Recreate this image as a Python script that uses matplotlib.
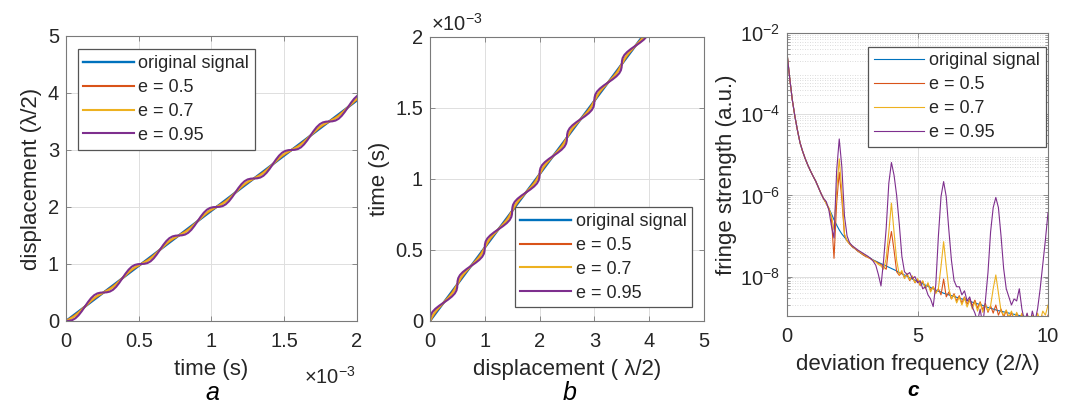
import matplotlib
matplotlib.use("Agg")
import matplotlib.pyplot as plt
import numpy as np
from matplotlib.ticker import FuncFormatter, LogLocator, NullFormatter

plt.rcParams["font.family"] = ["Liberation Sans", "DejaVu Sans"]
plt.rcParams["mathtext.fontset"] = "custom"
plt.rcParams["mathtext.rm"] = "Liberation Sans"
plt.rcParams["mathtext.it"] = "Liberation Sans:italic"

# ---- panels a / b : displacement vs time (time in ms) ----
time_ms = [
    0.0000, 0.0215, 0.0431, 0.0646, 0.0861, 0.1077, 0.1292, 0.1507, 0.1723, 0.1938, 0.2153, 0.2369,
    0.2584, 0.2799, 0.3015, 0.3230, 0.3445, 0.3661, 0.3876, 0.4091, 0.4307, 0.4522, 0.4737, 0.4953,
    0.5168, 0.5383, 0.5599, 0.5814, 0.6029, 0.6245, 0.6460, 0.6675, 0.6891, 0.7106, 0.7321, 0.7537,
    0.7752, 0.7967, 0.8183, 0.8398, 0.8613, 0.8829, 0.9044, 0.9259, 0.9475, 0.9690, 0.9905, 1.0121,
    1.0336, 1.0551, 1.0767, 1.0982, 1.1197, 1.1413, 1.1628, 1.1843, 1.2059, 1.2274, 1.2489, 1.2705,
    1.2920, 1.3135, 1.3351, 1.3566, 1.3781, 1.3997, 1.4212, 1.4427, 1.4643, 1.4858, 1.5073, 1.5289,
    1.5504, 1.5719, 1.5935, 1.6150, 1.6365, 1.6581, 1.6796, 1.7011, 1.7227, 1.7442, 1.7657, 1.7873,
    1.8088, 1.8303, 1.8519, 1.8734, 1.8949, 1.9165, 1.9380, 1.9595, 1.9811, 2.0026,
]
orig_time_ms = [0.0, 2.0026]
orig_disp = [0.0, 3.875]

disp_e05 = [
    0.000, 0.033, 0.068, 0.107, 0.151, 0.199, 0.250, 0.301, 0.349, 0.393, 0.432, 0.467,
    0.500, 0.533, 0.568, 0.607, 0.651, 0.699, 0.750, 0.801, 0.849, 0.893, 0.932, 0.967,
    1.000, 1.033, 1.068, 1.107, 1.151, 1.199, 1.250, 1.301, 1.349, 1.393, 1.432, 1.467,
    1.500, 1.533, 1.568, 1.607, 1.651, 1.699, 1.750, 1.801, 1.849, 1.893, 1.932, 1.967,
    2.000, 2.033, 2.068, 2.107, 2.151, 2.199, 2.250, 2.301, 2.349, 2.393, 2.432, 2.467,
    2.500, 2.533, 2.568, 2.607, 2.651, 2.699, 2.750, 2.801, 2.849, 2.893, 2.932, 2.967,
    3.000, 3.033, 3.068, 3.107, 3.151, 3.199, 3.250, 3.301, 3.349, 3.393, 3.432, 3.467,
    3.500, 3.533, 3.568, 3.607, 3.651, 3.699, 3.750, 3.801, 3.849, 3.893,
]
disp_e07 = [
    0.000, 0.027, 0.057, 0.095, 0.141, 0.193, 0.250, 0.307, 0.359, 0.405, 0.443, 0.473,
    0.500, 0.527, 0.557, 0.595, 0.641, 0.693, 0.750, 0.807, 0.859, 0.905, 0.943, 0.973,
    1.000, 1.027, 1.057, 1.095, 1.141, 1.193, 1.250, 1.307, 1.359, 1.405, 1.443, 1.473,
    1.500, 1.527, 1.557, 1.595, 1.641, 1.693, 1.750, 1.807, 1.859, 1.905, 1.943, 1.973,
    2.000, 2.027, 2.057, 2.095, 2.141, 2.193, 2.250, 2.307, 2.359, 2.405, 2.443, 2.473,
    2.500, 2.527, 2.557, 2.595, 2.641, 2.693, 2.750, 2.807, 2.859, 2.905, 2.943, 2.973,
    3.000, 3.027, 3.057, 3.095, 3.141, 3.193, 3.250, 3.307, 3.359, 3.405, 3.443, 3.473,
    3.500, 3.527, 3.557, 3.595, 3.641, 3.693, 3.750, 3.807, 3.859, 3.905,
]
disp_e095 = [
    0.000, 0.003, 0.016, 0.047, 0.099, 0.169, 0.250, 0.331, 0.401, 0.453, 0.484, 0.497,
    0.500, 0.503, 0.516, 0.547, 0.599, 0.669, 0.750, 0.831, 0.901, 0.953, 0.984, 0.997,
    1.000, 1.003, 1.016, 1.047, 1.099, 1.169, 1.250, 1.331, 1.401, 1.453, 1.484, 1.497,
    1.500, 1.503, 1.516, 1.547, 1.599, 1.669, 1.750, 1.831, 1.901, 1.953, 1.984, 1.997,
    2.000, 2.003, 2.016, 2.047, 2.099, 2.169, 2.250, 2.331, 2.401, 2.453, 2.484, 2.497,
    2.500, 2.503, 2.516, 2.547, 2.599, 2.669, 2.750, 2.831, 2.901, 2.953, 2.984, 2.997,
    3.000, 3.003, 3.016, 3.047, 3.099, 3.169, 3.250, 3.331, 3.401, 3.453, 3.484, 3.497,
    3.500, 3.503, 3.516, 3.547, 3.599, 3.669, 3.750, 3.831, 3.901, 3.953,
]

# ---- panel c : spectrum, values as log10(strength) ----
freq = [
    0.0, 0.1, 0.2, 0.3, 0.4, 0.5, 0.6, 0.7, 0.8, 0.9, 1.0, 1.1, 1.2, 1.3, 1.4, 1.5, 1.6, 1.7, 1.8, 1.9,
    2.0, 2.1, 2.2, 2.3, 2.4, 2.5, 2.6, 2.7, 2.8, 2.9, 3.0, 3.1, 3.2, 3.3, 3.4, 3.5, 3.6, 3.7, 3.8, 3.9,
    4.0, 4.1, 4.2, 4.3, 4.4, 4.5, 4.6, 4.7, 4.8, 4.9, 5.0, 5.1, 5.2, 5.3, 5.4, 5.5, 5.6, 5.7, 5.8, 5.9,
    6.0, 6.1, 6.2, 6.3, 6.4, 6.5, 6.6, 6.7, 6.8, 6.9, 7.0, 7.1, 7.2, 7.3, 7.4, 7.5, 7.6, 7.7, 7.8, 7.9,
    8.0, 8.1, 8.2, 8.3, 8.4, 8.5, 8.6, 8.7, 8.8, 8.9, 9.0, 9.1, 9.2, 9.3, 9.4, 9.5, 9.6, 9.7, 9.8, 9.9,
    10.0,
]
log_orig = [
    -2.50, -3.10, -3.64, -4.05, -4.40, -4.71, -4.92, -5.10, -5.26, -5.40,
    -5.53, -5.65, -5.80, -5.95, -6.08, -6.19, -6.32, -6.45, -6.60, -6.73,
    -6.85, -6.95, -7.03, -7.11, -7.19, -7.26, -7.31, -7.36, -7.41, -7.45,
    -7.49, -7.52, -7.55, -7.59, -7.62, -7.65, -7.68, -7.71, -7.74, -7.77,
    -7.80, -7.83, -7.86, -7.90, -7.93, -7.96, -7.99, -8.03, -8.06, -8.09,
    -8.12, -8.15, -8.18, -8.21, -8.24, -8.27, -8.30, -8.33, -8.36, -8.38,
    -8.41, -8.43, -8.45, -8.47, -8.49, -8.51, -8.53, -8.55, -8.57, -8.59,
    -8.61, -8.63, -8.65, -8.67, -8.69, -8.71, -8.74, -8.76, -8.78, -8.80,
    -8.82, -8.84, -8.85, -8.87, -8.88, -8.90, -8.91, -8.93, -8.94, -8.96,
    -8.97, -8.98, -9.00, -9.01, -9.02, -9.04, -9.05, -9.06, -9.08, -9.09,
    -9.10,
]
log_e05 = [
    -2.50, -3.10, -3.64, -4.05, -4.40, -4.71, -4.92, -5.10, -5.26, -5.40,
    -5.53, -5.65, -5.80, -5.95, -6.08, -6.19, -6.33, -6.55, -7.55, -6.20,
    -5.43, -6.10, -6.98, -7.12, -7.20, -7.27, -7.31, -7.37, -7.41, -7.46,
    -7.50, -7.53, -7.56, -7.60, -7.63, -7.67, -7.70, -7.76, -7.82, -7.25,
    -6.89, -7.35, -7.88, -7.97, -7.90, -8.02, -7.95, -8.10, -8.00, -8.15,
    -8.08, -8.22, -8.12, -8.28, -8.18, -8.33, -8.25, -8.40, -8.30, -8.45,
    -8.06, -8.50, -8.38, -8.55, -8.42, -8.60, -8.47, -8.65, -8.50, -8.68,
    -8.55, -8.72, -8.58, -8.78, -8.62, -8.82, -8.66, -8.88, -8.72, -8.90,
    -8.70, -8.95, -8.80, -9.00, -8.84, -9.05, -8.88, -9.10, -8.90, -9.05,
    -8.92, -9.15, -8.95, -9.10, -8.96, -9.20, -8.98, -9.15, -8.97, -9.20,
    -8.95,
]
log_e07 = [
    -2.50, -3.10, -3.64, -4.05, -4.40, -4.71, -4.92, -5.10, -5.26, -5.40,
    -5.53, -5.65, -5.80, -5.95, -6.08, -6.20, -6.30, -6.50, -6.85, -5.90,
    -5.10, -5.90, -6.95, -7.12, -7.19, -7.25, -7.30, -7.35, -7.40, -7.44,
    -7.48, -7.52, -7.56, -7.60, -7.64, -7.70, -7.74, -7.82, -7.55, -6.90,
    -6.19, -6.90, -7.60, -7.95, -7.85, -8.05, -7.92, -8.08, -7.98, -8.15,
    -8.05, -8.20, -8.10, -8.30, -8.15, -8.38, -8.25, -8.42, -8.30, -7.75,
    -7.14, -7.75, -8.30, -8.55, -8.45, -8.65, -8.50, -8.70, -8.52, -8.75,
    -8.58, -8.80, -8.62, -8.85, -8.65, -8.88, -8.70, -8.85, -8.72, -8.30,
    -7.96, -8.40, -8.85, -8.95, -8.82, -9.00, -8.85, -9.05, -8.88, -9.10,
    -8.90, -9.15, -8.92, -9.10, -8.95, -9.15, -8.90, -9.10, -8.85, -8.95,
    -8.70,
]
log_e095 = [
    -2.50, -3.10, -3.64, -4.05, -4.40, -4.71, -4.92, -5.10, -5.26, -5.40,
    -5.53, -5.65, -5.80, -5.95, -6.08, -6.15, -6.35, -6.75, -7.05, -5.40,
    -4.61, -5.30, -6.50, -7.00, -7.17, -7.24, -7.29, -7.34, -7.38, -7.42,
    -7.46, -7.50, -7.55, -7.62, -7.72, -7.95, -8.23, -7.60, -6.80, -5.70,
    -5.19, -5.50, -6.00, -6.70, -7.50, -7.88, -7.95, -7.90, -8.05, -8.00,
    -8.15, -8.10, -8.30, -8.25, -8.45, -8.55, -8.74, -8.20, -7.00, -6.03,
    -5.66, -6.03, -6.85, -7.60, -8.10, -8.25, -8.25, -8.45, -8.35, -8.60,
    -8.50, -8.75, -8.90, -9.10, -8.80, -9.20, -8.60, -7.90, -6.90, -6.30,
    -6.05, -6.30, -7.00, -7.80, -8.30, -8.50, -8.70, -8.55, -8.60, -8.30,
    -8.80, -9.10, -8.90, -9.20, -8.85, -9.10, -8.80, -8.30, -7.70, -7.10,
    -6.43,
]

labels = ["original signal", "e = 0.5", "e = 0.7", "e = 0.95"]
colors = ["#0072BD", "#D95319", "#EDB120", "#7E2F8E"]
text_c = "#262626"
axis_c = "#7a7a7a"
grid_c = "#dedede"


def style_axes(ax):
    for sp in ax.spines.values():
        sp.set_color(axis_c)
        sp.set_linewidth(0.8)
    ax.tick_params(direction="in", top=True, right=True, length=3.5, width=0.6,
                   color=axis_c, labelcolor=text_c, labelsize=14.5)
    ax.tick_params(axis="x", pad=8)
    ax.tick_params(axis="y", pad=5)
    ax.set_axisbelow(True)


def add_legend(ax, loc, anchor):
    leg = ax.legend(loc=loc, bbox_to_anchor=anchor, borderaxespad=0, fontsize=13,
                    fancybox=False, framealpha=1, edgecolor="#555555",
                    handlelength=2.8, handletextpad=0.25, labelspacing=0.38,
                    borderpad=0.32)
    leg.get_frame().set_linewidth(0.9)
    for t in leg.get_texts():
        t.set_color(text_c)
    return leg


ms_fmt = FuncFormatter(lambda v, p: f"{v * 1e3:g}")

fig = plt.figure(figsize=(10.73, 4.03), dpi=100)

# panel a
ax1 = fig.add_axes([0.0615, 0.2035, 0.2712, 0.7072])
t_s = np.array(time_ms) * 1e-3
ax1.plot(np.array(orig_time_ms) * 1e-3, orig_disp, color=colors[0], lw=1.7, label=labels[0])
ax1.plot(t_s, disp_e05, color=colors[1], lw=1.5, label=labels[1])
ax1.plot(t_s, disp_e07, color=colors[2], lw=1.5, label=labels[2])
ax1.plot(t_s, disp_e095, color=colors[3], lw=1.5, label=labels[3])
ax1.set_xlim(0, 2e-3)
ax1.set_ylim(0, 5)
ax1.set_xticks([0, 0.5e-3, 1e-3, 1.5e-3, 2e-3])
ax1.set_yticks([0, 1, 2, 3, 4, 5])
ax1.xaxis.set_major_formatter(ms_fmt)
ax1.grid(True, color=grid_c, lw=0.7)
style_axes(ax1)
ax1.set_xlabel("time (s)", fontsize=16, color=text_c, labelpad=6)
ax1.set_ylabel("displacement (λ/2)", fontsize=16, color=text_c, labelpad=4)
ax1.text(0.995, -0.195, r"$\times10^{-3}$", transform=ax1.transAxes, ha="right",
         va="center", fontsize=14.5, color=text_c)
add_legend(ax1, "upper left", (0.040, 0.953))

# panel b
ax2 = fig.add_axes([0.4007, 0.2035, 0.2554, 0.7047])
ax2.plot(orig_disp, np.array(orig_time_ms) * 1e-3, color=colors[0], lw=1.7, label=labels[0])
ax2.plot(disp_e05, t_s, color=colors[1], lw=1.5, label=labels[1])
ax2.plot(disp_e07, t_s, color=colors[2], lw=1.5, label=labels[2])
ax2.plot(disp_e095, t_s, color=colors[3], lw=1.5, label=labels[3])
ax2.set_xlim(0, 5)
ax2.set_ylim(0, 2e-3)
ax2.set_xticks([0, 1, 2, 3, 4, 5])
ax2.set_yticks([0, 0.5e-3, 1e-3, 1.5e-3, 2e-3])
ax2.yaxis.set_major_formatter(ms_fmt)
ax2.grid(True, color=grid_c, lw=0.7)
style_axes(ax2)
ax2.set_xlabel("displacement ( λ/2)", fontsize=16, color=text_c, labelpad=6)
ax2.set_ylabel("time (s)", fontsize=16, color=text_c, labelpad=4)
ax2.text(0.005, 1.045, r"$\times10^{-3}$", transform=ax2.transAxes, ha="left",
         va="center", fontsize=14.5, color=text_c)
add_legend(ax2, "lower right", (0.957, 0.048))

# panel c
ax3 = fig.add_axes([0.7335, 0.2159, 0.2432, 0.7022])
ax3.plot(freq, 10.0 ** np.array(log_orig), color=colors[0], lw=0.8, label=labels[0])
ax3.plot(freq, 10.0 ** np.array(log_e05), color=colors[1], lw=0.8, label=labels[1])
ax3.plot(freq, 10.0 ** np.array(log_e07), color=colors[2], lw=0.8, label=labels[2])
ax3.plot(freq, 10.0 ** np.array(log_e095), color=colors[3], lw=0.8, label=labels[3])
ax3.set_yscale("log")
ax3.set_xlim(0, 10)
ax3.set_ylim(1.07e-9, 1e-2)
ax3.set_xticks([0, 5, 10])
ax3.set_yticks([1e-8, 1e-6, 1e-4, 1e-2])
ax3.yaxis.set_minor_locator(LogLocator(base=10, subs=np.arange(2, 10), numticks=20))
ax3.yaxis.set_minor_formatter(NullFormatter())
ax3.grid(True, which="major", color=grid_c, lw=0.7)
ax3.grid(True, which="minor", axis="y", color="#d0d0d0", lw=0.6, ls=(0, (1, 2)))
style_axes(ax3)
ax3.tick_params(which="minor", direction="in", right=True, length=2, width=0.5, color=axis_c)
ax3.set_xlabel("deviation frequency (2/λ)", fontsize=16, color=text_c, labelpad=6)
ax3.set_ylabel("fringe strength (a.u.)", fontsize=16, color=text_c, labelpad=2)
add_legend(ax3, "upper right", (0.991, 0.952))

# panel tags
fig.text(212 / 1073, 1 - 393 / 403, "a", fontsize=18, style="italic", color="black",
         ha="center", va="center")
fig.text(570 / 1073, 1 - 393 / 403, "b", fontsize=18, style="italic", color="black",
         ha="center", va="center")
fig.text(913 / 1073, 1 - 391 / 403, "c", fontsize=15, style="italic", weight="bold",
         color="black", ha="center", va="center")

fig.savefig("out.png", dpi=100)
